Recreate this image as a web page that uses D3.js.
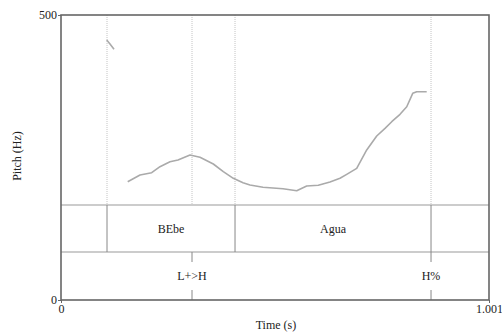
<!DOCTYPE html>
<html><head><meta charset="utf-8">
<script src="https://cdn.jsdelivr.net/npm/d3@7"></script>
<style>body{margin:0;background:#fff}svg{display:block}text{font-family:"Liberation Serif","Times New Roman",serif;fill:#222}</style>
</head><body><div id="chart"></div>
<script>
const xDomain = [0, 1.001];
const yDomain = [0, 500];
const xTickLabels = ["0", "1.001"];
const yTickLabels = ["0", "500"];
// pitch contour segments: [time (s), pitch (Hz)]
const pitchSeg1Time = [0.1069, 0.1146, 0.1240];
const pitchSeg1Hz = [456, 449, 440];
const pitchSeg2Time = [0.1560,0.1848,0.2121,0.2315,0.2549,0.2736,0.3017,0.3251,0.3562,0.3796,0.4030,0.4257,0.4420,0.4724,0.5192,0.5513,0.5746,0.6018,0.6291,0.6525,0.6682,0.6916,0.7150,0.7384,0.7578,0.7735,0.7929,0.8086,0.8226,0.8320,0.8553];
const pitchSeg2Hz = [207.5,219.3,223.3,233.9,242.6,245.6,254.4,250.4,238.6,225.1,213.5,205.8,201.8,197.7,195.3,191.8,200,201.2,207,213.5,220.5,231,263.2,287.7,301.2,312.8,325.8,339.1,362.6,365.4,365.4];
// text grid
const tier1Bounds = [0.1076, 0.4070, 0.8654];
const tier1Labels = ["", "BEbe", "Agua", ""];
const tier2Times = [0.3064, 0.8654];
const tier2Labels = ["L+>H", "H%"];

const W = 502, H = 334;
const L = 61, R = 489, T = 15, B = 300;
const tierTop1 = 205, tierTop2 = 252;
const FS = 12;

const svg = d3.select("#chart").append("svg").attr("width", W).attr("height", H);
const x = d3.scaleLinear().domain(xDomain).range([L, R]);
const y = d3.scaleLinear().domain(yDomain).range([B, T]);

// dotted boundary lines in pitch area
const allBounds = tier1Bounds.concat([tier2Times[0]]);
svg.selectAll("line.dot").data(allBounds).enter().append("line")
  .attr("x1", d => x(d)).attr("x2", d => x(d)).attr("y1", T).attr("y2", tierTop1)
  .attr("stroke", "#c4c4c4").attr("stroke-width", 1).attr("stroke-dasharray", "1,1");

// tier lines
svg.append("line").attr("x1", L).attr("x2", R).attr("y1", tierTop1).attr("y2", tierTop1).attr("stroke", "#999").attr("stroke-width", 1.2);
svg.append("line").attr("x1", L).attr("x2", R).attr("y1", tierTop2).attr("y2", tierTop2).attr("stroke", "#999").attr("stroke-width", 1.2);

// tier 1 boundaries
svg.selectAll("line.b1").data(tier1Bounds).enter().append("line")
  .attr("x1", d => x(d)).attr("x2", d => x(d)).attr("y1", tierTop1).attr("y2", tierTop2)
  .attr("stroke", "#888").attr("stroke-width", 1);
const edges = [xDomain[0]].concat(tier1Bounds, [xDomain[1]]);
svg.selectAll("text.t1").data(tier1Labels).enter().append("text")
  .attr("x", (d, i) => (x(edges[i]) + x(edges[i + 1])) / 2)
  .attr("y", (tierTop1 + tierTop2) / 2).attr("dy", "0.35em")
  .attr("text-anchor", "middle").attr("font-size", FS).text(d => d);

// tier 2 points
tier2Times.forEach((t, i) => {
  svg.append("line").attr("x1", x(t)).attr("x2", x(t)).attr("y1", tierTop2).attr("y2", tierTop2 + 10).attr("stroke", "#888");
  svg.append("line").attr("x1", x(t)).attr("x2", x(t)).attr("y1", B - 10).attr("y2", B).attr("stroke", "#888");
  svg.append("text").attr("x", x(t)).attr("y", (tierTop2 + B) / 2).attr("dy", "0.35em")
    .attr("text-anchor", "middle").attr("font-size", FS).text(tier2Labels[i]);
});

// pitch contour
const line = d3.line().x(d => x(d[0])).y(d => y(d[1]));
[[pitchSeg1Time, pitchSeg1Hz], [pitchSeg2Time, pitchSeg2Hz]].forEach(([ts, hs]) => {
  svg.append("path").datum(ts.map((t, i) => [t, hs[i]])).attr("d", line)
    .attr("fill", "none").attr("stroke", "#aaa").attr("stroke-width", 1.6).attr("stroke-linejoin", "round");
});

// frame
svg.append("rect").attr("x", L).attr("y", T).attr("width", R - L).attr("height", B - T)
  .attr("fill", "none").attr("stroke", "#666").attr("stroke-width", 1.6);

// axes
const yAxis = d3.axisLeft(y).tickValues(yDomain).tickFormat((d, i) => yTickLabels[i]).tickSize(3).tickPadding(1);
const gy = svg.append("g").attr("transform", `translate(${L},0)`).call(yAxis);
const xAxis = d3.axisBottom(x).tickValues(xDomain).tickFormat((d, i) => xTickLabels[i]).tickSize(3).tickPadding(1);
const gx = svg.append("g").attr("transform", `translate(0,${B})`).call(xAxis);
[gy, gx].forEach(g => {
  g.select(".domain").remove();
  g.selectAll("line").attr("stroke", "#666");
  g.selectAll("text").attr("font-family", '"Liberation Serif", serif').attr("font-size", FS).attr("fill", "#222");
});

svg.append("text").attr("x", 276).attr("y", 329).attr("text-anchor", "middle").attr("font-size", FS).text("Time (s)");
svg.append("text").attr("transform", `translate(21,156) rotate(-90)`).attr("text-anchor", "middle").attr("font-size", FS).text("Pitch (Hz)");
</script></body></html>
